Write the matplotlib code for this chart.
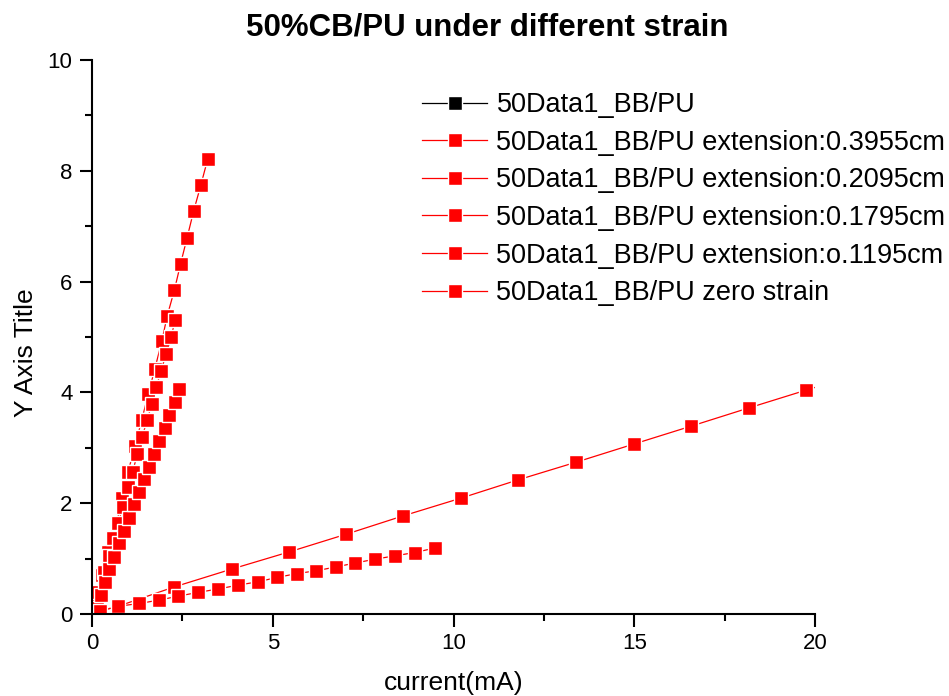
import matplotlib
matplotlib.use("Agg")
import matplotlib.pyplot as plt
from matplotlib.ticker import MultipleLocator

plt.rcParams['font.family'] = ['Liberation Sans', 'DejaVu Sans']

# data (x: current in mA, y: Y Axis Title)
black_x = []
black_y = []

ext3955_x = [0.05, 0.29, 0.45, 0.68, 0.82, 1.00, 1.19, 1.38, 1.56, 1.74, 1.93, 2.08, 2.28, 2.45, 2.63, 2.81, 3.01, 3.20]
ext3955_y = [0.17, 0.70, 1.12, 1.61, 2.10, 2.57, 3.04, 3.51, 3.98, 4.43, 4.92, 5.38, 5.85, 6.32, 6.79, 7.27, 7.74, 8.21]

ext2095_x = [0.10, 0.17, 0.33, 0.47, 0.59, 0.73, 0.85, 0.99, 1.13, 1.25, 1.38, 1.53, 1.65, 1.78, 1.91, 2.05, 2.19, 2.30]
ext2095_y = [0.08, 0.40, 0.75, 1.05, 1.37, 1.64, 1.94, 2.29, 2.57, 2.89, 3.19, 3.50, 3.79, 4.10, 4.39, 4.69, 5.00, 5.31]

ext1795_x = [0.15, 0.26, 0.35, 0.48, 0.62, 0.75, 0.89, 1.02, 1.16, 1.30, 1.45, 1.59, 1.72, 1.86, 2.01, 2.14, 2.29, 2.41]
ext1795_y = [0.10, 0.35, 0.58, 0.81, 1.03, 1.29, 1.50, 1.74, 1.98, 2.20, 2.43, 2.66, 2.89, 3.13, 3.35, 3.60, 3.83, 4.06]

ext1195_x = [0.08, 0.68, 2.28, 3.86, 5.45, 7.03, 8.60, 10.20, 11.78, 13.39, 15.00, 16.57, 18.17, 19.75, 21.35]
ext1195_y = [0.04, 0.13, 0.49, 0.81, 1.12, 1.44, 1.77, 2.09, 2.42, 2.74, 3.07, 3.39, 3.72, 4.04, 4.36]

zero_x = [0.22, 0.73, 1.31, 1.85, 2.37, 2.93, 3.48, 4.03, 4.58, 5.12, 5.67, 6.20, 6.75, 7.28, 7.83, 8.38, 8.93, 9.48]
zero_y = [0.05, 0.14, 0.19, 0.25, 0.32, 0.39, 0.45, 0.52, 0.58, 0.66, 0.73, 0.78, 0.85, 0.92, 0.99, 1.05, 1.11, 1.19]

fig = plt.figure(figsize=(9.49, 6.96), dpi=100)
ax = fig.add_axes([92 / 949, 82 / 696, 723 / 949, 554 / 696])

style = dict(marker='s', markersize=10.5, markeredgecolor='white', markeredgewidth=1.0,
             linewidth=0.9)

ax.plot(black_x, black_y, color='black', markerfacecolor='black', label="50Data1_BB/PU", **style)
ax.plot(ext3955_x, ext3955_y, color='red', label="50Data1_BB/PU extension:0.3955cm", **style)
ax.plot(ext2095_x, ext2095_y, color='red', label="50Data1_BB/PU extension:0.2095cm", **style)
ax.plot(ext1795_x, ext1795_y, color='red', label="50Data1_BB/PU extension:0.1795cm", **style)
ax.plot(ext1195_x, ext1195_y, color='red', label="50Data1_BB/PU extension:o.1195cm", **style)
ax.plot(zero_x, zero_y, color='red', label="50Data1_BB/PU zero strain", **style)

ax.set_xlim(0, 20)
ax.set_ylim(0, 10)
ax.xaxis.set_major_locator(MultipleLocator(5))
ax.xaxis.set_minor_locator(MultipleLocator(2.5))
ax.yaxis.set_major_locator(MultipleLocator(2))
ax.yaxis.set_minor_locator(MultipleLocator(1))

ax.spines['top'].set_visible(False)
ax.spines['right'].set_visible(False)
for s in ('left', 'bottom'):
    ax.spines[s].set_linewidth(1.5)
ax.tick_params(which='major', length=9, width=1.5, labelsize=16, pad=5)
ax.tick_params(which='minor', length=5, width=1.5)

ax.set_xlabel("current(mA)", fontsize=19, labelpad=12)
ax.set_ylabel("Y Axis Title", fontsize=19)
ax.yaxis.set_label_coords(-0.075, 0.471)

fig.text(487 / 949, 1 - 27 / 696, "50%CB/PU under different strain",
         fontsize=22.5, fontweight='bold', ha='center', va='center')

leg = ax.legend(loc='upper left', bbox_to_anchor=(422 / 949, 1 - 92 / 696),
                bbox_transform=fig.transFigure, frameon=False, fontsize=19.5,
                handlelength=2.4, handletextpad=0.35, labelspacing=0.43,
                borderpad=0, borderaxespad=0, markerscale=0.9)

fig.savefig("out.png", dpi=100)
